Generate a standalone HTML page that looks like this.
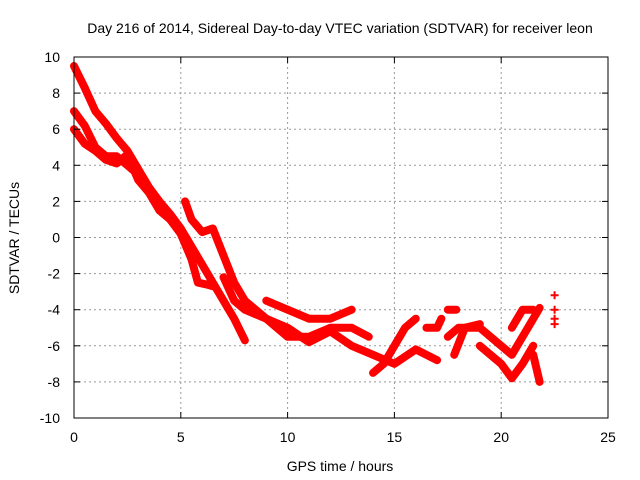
<!DOCTYPE html>
<html><head><meta charset="utf-8"><style>
body{margin:0;background:#fff}
svg{display:block;font-family:"Liberation Sans",sans-serif;font-size:14px}
</style></head><body>
<svg id="c" width="640" height="480">
<text x="340" y="33" text-anchor="middle">Day 216 of 2014, Sidereal Day-to-day VTEC variation (SDTVAR) for receiver leon</text>
<text x="340" y="471" text-anchor="middle">GPS time / hours</text>
<text transform="translate(19,238) rotate(-90)" text-anchor="middle">SDTVAR / TECUs</text>
<g id="grid"></g><g id="data"></g>
<rect x="74" y="57" width="534" height="361" fill="none" stroke="#000" stroke-width="1"/>
<g id="ticks"></g>
</svg>
<script>
const xTicks=[0,5,10,15,20,25];
const yTicks=[10,8,6,4,2,0,-2,-4,-6,-8,-10];
const trackTimes=[
 [0,0.5,1,1.5,2,2.5,3,3.5,4,4.5,5,5.5,6,6.5,7,7.5,8],
 [0,0.5,1,1.5,2,2.5,3,3.5,4,4.5,5,5.5,5.8,6.2,6.5],
 [0,0.5,1,1.5,2,2.5,3,3.5],
 [5.2,5.5,6,6.5,7,7.5,8,9,10,11,12,13,13.8],
 [7,7.5,8,9,10,11,12,13,14,15,16,17],
 [9,10,11,12,13],
 [14,14.5,15,15.5,16],
 [16.5,17,17.2],
 [17.5,17.9],
 [17.5,18,19,20,20.5,21,21.5,21.8],
 [17.8,18.3,19],
 [19,20,20.5,21,21.5],
 [20.5,21,21.5],
 [21.5,21.8]
];
const trackValues=[
 [9.5,8.3,7,6.3,5.5,4.8,3.8,2.8,2,1.3,0.5,-0.5,-1.5,-2.5,-3.5,-4.5,-5.7],
 [7,6.2,5,4.5,4.5,4,3.5,2.5,1.5,1,0.2,-1.2,-2.5,-2.6,-2.7],
 [6,5.2,4.8,4.3,4.1,4.6,3.2,2.5],
 [2,1,0.3,0.5,-1,-2.5,-3.5,-4.5,-5.5,-5.5,-5,-5,-5.5],
 [-2.2,-3.5,-4,-4.5,-5,-5.8,-5.2,-6,-6.5,-7,-6.2,-6.8],
 [-3.5,-4,-4.5,-4.5,-4],
 [-7.5,-7,-6,-5,-4.5],
 [-5,-5,-4.5],
 [-4,-4],
 [-5.5,-5,-5,-6,-6.5,-5.5,-4.5,-3.9],
 [-6.5,-5,-4.8],
 [-6,-7,-7.8,-7,-6],
 [-5,-4,-4],
 [-6.5,-8]
];
const isoTimes=[22.5,22.5,22.5,22.5];
const isoValues=[-3.2,-4,-4.5,-4.8];
const X=t=>74+t*534/25, Y=v=>57+(10-v)*361/20;
const NS='http://www.w3.org/2000/svg';
const grid=document.getElementById('grid'),ticks=document.getElementById('ticks'),data=document.getElementById('data');
function mk(tag,a,p){const e=document.createElementNS(NS,tag);for(const k in a)e.setAttribute(k,a[k]);p.appendChild(e);return e;}
xTicks.forEach(t=>{
 if(t>0&&t<25){const g=mk('line',{x1:X(t),x2:X(t),y1:57,y2:418,stroke:'#999','stroke-dasharray':'2,3'},grid);
 
 }
 mk('line',{x1:X(t),x2:X(t),y1:418,y2:412,stroke:'#000'},ticks);
 mk('line',{x1:X(t),x2:X(t),y1:57,y2:63,stroke:'#000'},ticks);
 const l=mk('text',{x:X(t),y:442,'text-anchor':'middle'},ticks);l.textContent=t;
 
 
});
yTicks.forEach(v=>{
 if(v>-10&&v<10){const g=mk('line',{x1:74,x2:608,y1:Y(v),y2:Y(v),stroke:'#999','stroke-dasharray':'2,3'},grid);
 
 }
 mk('line',{x1:74,x2:80,y1:Y(v),y2:Y(v),stroke:'#000'},ticks);
 mk('line',{x1:608,x2:602,y1:Y(v),y2:Y(v),stroke:'#000'},ticks);
 const l=mk('text',{x:60,y:Y(v)+5,'text-anchor':'end'},ticks);l.textContent=v;
 
 
});
trackTimes.forEach((ts,i)=>{
 const pts=ts.map((t,j)=>X(t)+','+Y(trackValues[i][j])).join(' ');
 const p=mk('polyline',{points:pts,fill:'none',stroke:'#f00','stroke-width':8,'stroke-linejoin':'round','stroke-linecap':'round'},data);
 
 
});
isoTimes.forEach((t,i)=>{
 const x=X(t),y=Y(isoValues[i]);
 const p=mk('path',{d:`M${x-4},${y}H${x+4}M${x},${y-4}V${y+4}`,stroke:'#f00','stroke-width':2},data);
 
 
});
</script>
</body></html>
